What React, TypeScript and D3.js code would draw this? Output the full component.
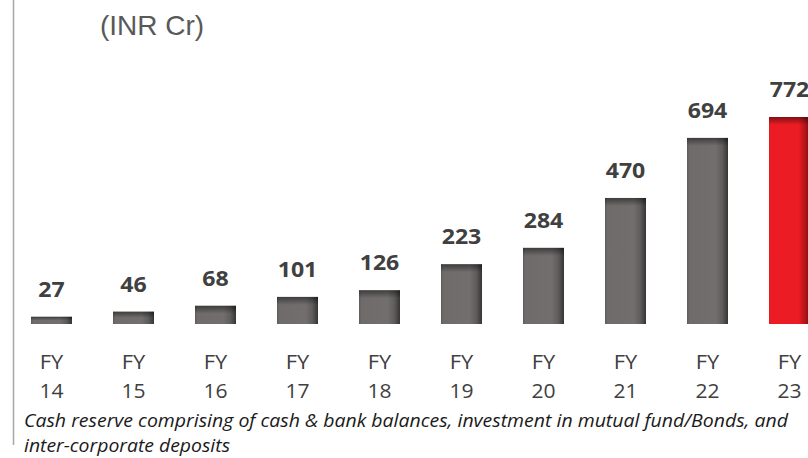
import React from "react";
import * as d3 from "d3";

// chart data
const years = ["14", "15", "16", "17", "18", "19", "20", "21", "22", "23"];
const cashReserve = [27, 46, 68, 101, 126, 223, 284, 470, 694, 772];
const highlightYear = "23";
const unitLabel = "(INR Cr)";
const footnoteLines = [
  "Cash reserve comprising of cash & bank balances, investment in mutual fund/Bonds, and",
  "inter-corporate deposits",
];

const width = 808;
const height = 458;
const baseline = 324;

export default function App() {
  const x = d3.scaleBand<string>()
    .domain(years)
    .range([-10, 851])
    .padding(0.5);

  const y = d3.scaleLinear()
    .domain([0, d3.max(cashReserve) as number])
    .range([baseline, 117]);

  const bw = x.bandwidth();

  return (
    <div style={{ position: "fixed", left: 0, top: 0 }}>
      <svg width={width} height={height} style={{ display: "block", background: "#fff" }}>
        <defs>
          {/* cylinder-ish shading, lighter body and dark right edge */}
          <linearGradient id="gGray" x1="0" x2="1" y1="0" y2="0">
            <stop offset="0%" stopColor="#5e5b5b" />
            <stop offset="6%" stopColor="#6f6b6b" />
            <stop offset="70%" stopColor="#726e6e" />
            <stop offset="86%" stopColor="#5f5c5c" />
            <stop offset="100%" stopColor="#363434" />
          </linearGradient>
          <linearGradient id="gRed" x1="0" x2="1" y1="0" y2="0">
            <stop offset="0%" stopColor="#e31b22" />
            <stop offset="6%" stopColor="#ed1c24" />
            <stop offset="72%" stopColor="#ec1c24" />
            <stop offset="88%" stopColor="#b3141a" />
            <stop offset="100%" stopColor="#7a0c10" />
          </linearGradient>
          <linearGradient id="gTop" x1="0" x2="0" y1="0" y2="1">
            <stop offset="0%" stopColor="#000" stopOpacity={0.45} />
            <stop offset="100%" stopColor="#000" stopOpacity={0} />
          </linearGradient>
        </defs>

        <line x1={13.5} x2={13.5} y1={0} y2={445} stroke="#a6a6a6" strokeWidth={1.5} />

        <text x={100} y={35} fontFamily="'Liberation Sans', Arial, sans-serif" fontSize={28} fill="#595959">
          {unitLabel}
        </text>

        {years.map((yr, i) => {
          const v = cashReserve[i];
          const x0 = x(yr) as number;
          const top = y(v);
          const h = baseline - top;
          const cx = x0 + bw / 2;
          return (
            <g key={yr}>
              <rect x={x0} y={top} width={bw} height={h}
                fill={yr === highlightYear ? "url(#gRed)" : "url(#gGray)"} />
              <rect x={x0} y={top} width={bw} height={Math.min(8, h * 0.5)} fill="url(#gTop)" />
              <text transform={`translate(${cx},${top - 20}) scale(1.1,1)`} textAnchor="middle"
                fontFamily="'Open Sans', sans-serif" fontWeight={700} fontSize={21} fill="#404040">
                {v}
              </text>
              <text transform={`translate(${cx},369) scale(1.12,1)`} textAnchor="middle"
                fontFamily="'Open Sans', sans-serif" fontSize={19.5} fill="#404040">
                FY
              </text>
              <text transform={`translate(${cx},398) scale(1.08,1)`} textAnchor="middle"
                fontFamily="'Open Sans', sans-serif" fontSize={19.5} fill="#404040">
                {yr}
              </text>
            </g>
          );
        })}

        <text x={24} y={427} fontFamily="'Open Sans', sans-serif" fontStyle="italic" fontSize={19}
          fill="#1a1a1a" textLength={764} lengthAdjust="spacingAndGlyphs">
          {footnoteLines[0]}
        </text>
        <text x={24} y={452} fontFamily="'Open Sans', sans-serif" fontStyle="italic" fontSize={19}
          fill="#1a1a1a" textLength={206} lengthAdjust="spacingAndGlyphs">
          {footnoteLines[1]}
        </text>
      </svg>
    </div>
  );
}
